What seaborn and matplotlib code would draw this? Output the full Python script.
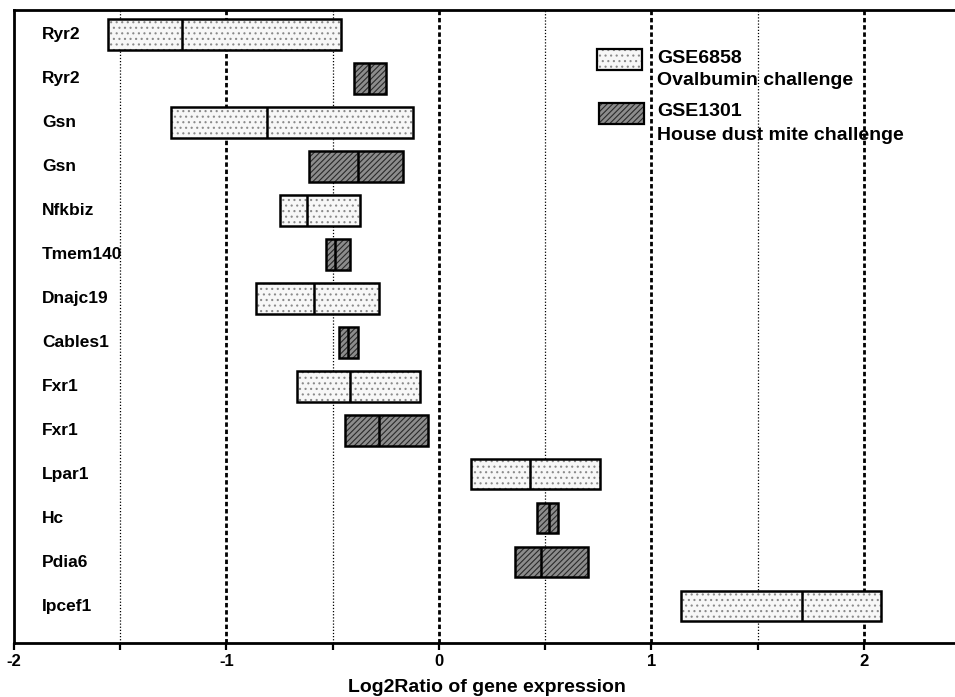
import numpy as np
import matplotlib
matplotlib.use("Agg")
import matplotlib.pyplot as plt
import matplotlib.patches as mpatches
import seaborn as sns

# data (top to bottom)
genes = ["Ryr2", "Ryr2", "Gsn", "Gsn", "Nfkbiz", "Tmem140", "Dnajc19",
         "Cables1", "Fxr1", "Fxr1", "Lpar1", "Hc", "Pdia6", "Ipcef1"]
dataset = ["GSE6858", "GSE1301", "GSE6858", "GSE1301", "GSE6858", "GSE1301", "GSE6858",
           "GSE1301", "GSE6858", "GSE1301", "GSE6858", "GSE1301", "GSE1301", "GSE6858"]
low = [-1.56, -0.40, -1.26, -0.61, -0.75, -0.53, -0.86,
       -0.47, -0.67, -0.44, 0.15, 0.46, 0.36, 1.14]
mid = [-1.21, -0.33, -0.81, -0.38, -0.62, -0.49, -0.59,
       -0.43, -0.42, -0.28, 0.43, 0.52, 0.48, 1.71]
high = [-0.46, -0.25, -0.12, -0.17, -0.37, -0.42, -0.28,
        -0.38, -0.09, -0.05, 0.76, 0.56, 0.70, 2.08]

legend_ids = ["GSE6858", "GSE1301"]
legend_desc = ["Ovalbumin challenge", "House dust mite challenge"]

sns.set_style("white")
plt.rcParams["font.family"] = ["Liberation Sans", "DejaVu Sans"]
plt.rcParams["font.weight"] = "bold"
plt.rcParams["hatch.linewidth"] = 0.8
plt.rcParams["text.color"] = "black"
plt.rcParams["axes.labelcolor"] = "black"
plt.rcParams["xtick.color"] = "black"

# look of each dataset
styles = {
    "GSE6858": dict(face="#f7f7f7", hatch="...", hcol="#8a8a8a"),
    "GSE1301": dict(face="#8c8c8c", hatch="//////", hcol="#2a2a2a"),
}

fig = plt.figure(figsize=(9.55, 6.97), dpi=100)
ax = fig.add_axes([0.0147, 0.0775, 0.99, 0.908])

low = np.array(low)
mid = np.array(mid)
high = np.array(high)
ypos = np.arange(len(genes))
h = 0.7

# grid lines: dashed on integers, dotted on halves
for gx in np.arange(-1.5, 2.01, 0.5):
    if float(gx).is_integer():
        ax.axvline(gx, color="black", ls=(0, (1.6, 1.0)), lw=2.0, zorder=0)
    else:
        ax.axvline(gx, color="black", ls=(0, (1, 1.5)), lw=0.9, zorder=0)

for ds, st in styles.items():
    m = np.array([d == ds for d in dataset])
    ax.barh(ypos[m], high[m] - low[m], left=low[m], height=h,
            color=st["face"], hatch=st["hatch"], edgecolor=st["hcol"],
            linewidth=0, zorder=2)
    ax.barh(ypos[m], high[m] - low[m], left=low[m], height=h,
            fill=False, edgecolor="black", linewidth=1.8, zorder=3)

ax.vlines(mid, ypos - h / 2, ypos + h / 2, color="black", lw=1.8, zorder=4)

# gene names sit inside the axes on the left
for y, g in zip(ypos, genes):
    ax.text(-1.868, y, g, ha="left", va="center", fontsize=12.5,
            fontweight="bold", color="black", zorder=5)

ax.set_xlim(-2, 2.45)
ax.set_ylim(len(genes) - 0.16, -0.55)
ax.set_yticks([])
ax.set_xticks([-2, -1, 0, 1, 2])
ax.set_xticklabels(["-2", "-1", "0", "1", "2"], fontsize=12, fontweight="bold")
ax.set_xticks(np.arange(-1.5, 2.5, 1.0), minor=True)
ax.tick_params(axis="x", which="both", direction="out", length=5, width=1.6,
               bottom=True, pad=3, colors="black")
ax.set_xlabel("Log2Ratio of gene expression", fontsize=14, fontweight="bold",
              labelpad=7, color="black")

for side in ["left", "bottom", "top"]:
    ax.spines[side].set_linewidth(2)
    ax.spines[side].set_color("black")
ax.spines["right"].set_visible(False)

# legend drawn by hand in axes coordinates
leg_box_y = [0.905, 0.820]
leg_line_y = [(0.924, 0.889), (0.840, 0.8025)]
for i, ds in enumerate(legend_ids):
    st = styles[ds]
    x0 = 0.617 + 0.002 * i
    ax.add_patch(mpatches.Rectangle((x0, leg_box_y[i]), 0.0476, 0.034,
                                    transform=ax.transAxes, facecolor=st["face"],
                                    hatch=st["hatch"], edgecolor=st["hcol"],
                                    linewidth=0, zorder=6))
    ax.add_patch(mpatches.Rectangle((x0, leg_box_y[i]), 0.0476, 0.034,
                                    transform=ax.transAxes, fill=False,
                                    edgecolor="black", linewidth=1.6, zorder=7))
    ax.text(0.680, leg_line_y[i][0], ds, transform=ax.transAxes, ha="left",
            va="center", fontsize=14, fontweight="bold", zorder=7)
    ax.text(0.680, leg_line_y[i][1], legend_desc[i], transform=ax.transAxes,
            ha="left", va="center", fontsize=14, fontweight="bold", zorder=7)

fig.savefig("out.png", dpi=100)
